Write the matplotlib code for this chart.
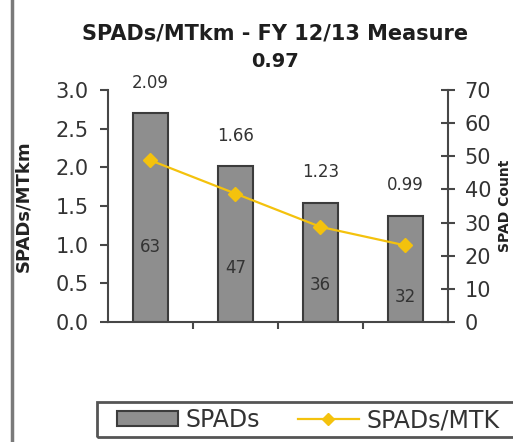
import matplotlib.pyplot as plt
from matplotlib.lines import Line2D
from matplotlib.patches import Patch, Rectangle

# SPAD counts per period and SPADs per million train km
periods = ['P1', 'P2', 'P3', 'P4']
spad_count = [63, 47, 36, 32]
spads_per_mtk = [2.09, 1.66, 1.23, 0.99]
left_ticks = [0.0, 0.5, 1.0, 1.5, 2.0, 2.5, 3.0]
right_ticks = [0, 10, 20, 30, 40, 50, 60, 70]
# heights (in count units) where the count labels sit inside the bars
count_label_y = [22.6, 16.3, 11.2, 7.5]

bar_face = '#8e8e8e'
bar_edge = '#3c3c3c'
line_col = '#f4c20d'
axis_col = '#474747'
text_col = '#333333'

W, H = 513, 442
fig = plt.figure(figsize=(W / 100, H / 100), dpi=100)
ax = fig.add_axes([0.2105, 0.2715, 0.6625, 0.525])
ax2 = ax.twinx()

x = list(range(len(periods)))

# bars go on the right (count) axis, the rate line on the left axis
ax2.bar(x, spad_count, width=0.41, color=bar_face, edgecolor=bar_edge, linewidth=1.5, zorder=2)
ax2.set_ylim(0, 70)
ax2.set_yticks(right_ticks)

ax.set_ylim(0, 3.0)
ax.set_yticks(left_ticks)
ax.set_yticklabels(['%.1f' % t for t in left_ticks])
ax.set_xlim(-0.5, 3.5)
ax.set_xticks([0.5, 1.5, 2.5])
ax.set_xticklabels([])

# put the line axis on top of the bars
ax.set_zorder(ax2.get_zorder() + 1)
ax.patch.set_visible(False)
ax.plot(x, spads_per_mtk, color=line_col, lw=1.6, marker='D', ms=7,
        mec=line_col, mfc=line_col, zorder=5)

for xi, cnt, ly, rate in zip(x, spad_count, count_label_y, spads_per_mtk):
    ax2.text(xi, ly, str(cnt), ha='center', va='center', fontsize=12, color=text_col, zorder=6)
    ax2.annotate('%.2f' % rate, (xi, cnt), xytext=(0, 22), textcoords='offset points',
                 ha='center', va='center', fontsize=12, color=text_col, annotation_clip=False)

for a in (ax, ax2):
    a.spines['top'].set_visible(False)
    for s in a.spines.values():
        s.set_color(axis_col)
        s.set_linewidth(1.5)
ax.spines['right'].set_visible(False)
ax2.spines['left'].set_visible(False)
ax2.spines['bottom'].set_visible(False)

ax.tick_params(axis='y', direction='out', length=6, width=1.5, color=axis_col,
               labelsize=15, labelcolor=text_col, pad=8)
ax.tick_params(axis='x', direction='out', length=5, width=1.5, color=axis_col)
ax2.tick_params(axis='y', direction='inout', length=10, width=1.5, color=axis_col,
                labelsize=15, labelcolor=text_col, pad=7)

ax.set_ylabel('SPADs/MTkm', fontsize=13, fontweight='bold', color='#222222')
ax.yaxis.set_label_coords(-0.224, 0.5)
ax2.set_ylabel('SPAD Count', fontsize=10, fontweight='bold', color='#222222')
ax2.yaxis.set_label_coords(1.148, 0.5)

fig.text(0.536, 0.925, 'SPADs/MTkm - FY 12/13 Measure', ha='center', va='center',
         fontsize=15, fontweight='heavy', color='#1e1e1e')
fig.text(0.536, 0.86, '0.97', ha='center', va='center',
         fontsize=14, fontweight='heavy', color='#1e1e1e')

# left border of the chart area
fig.add_artist(Line2D([0.024, 0.024], [0, 1], transform=fig.transFigure,
                      color='#7a7a7a', lw=2.5))

# legend box running off the right edge
fig.add_artist(Rectangle((97 / W, 1 - 437 / H), (525 - 97) / W, 35 / H,
                         transform=fig.transFigure, fill=False, ec='#555555', lw=2.0))

handles = [Patch(facecolor=bar_face, edgecolor=bar_edge, linewidth=1.5),
           Line2D([], [], color=line_col, lw=1.6, marker='D', ms=6, mfc=line_col, mec=line_col)]
leg = fig.legend(handles, ['SPADs', 'SPADs/MTK'], loc='center left',
                 bbox_to_anchor=(117 / W, 1 - 420 / H), ncol=2, fontsize=17,
                 frameon=False, handlelength=2.6, handleheight=0.6,
                 columnspacing=1.6, handletextpad=0.3, borderpad=0, borderaxespad=0,
                 labelcolor=text_col)

fig.savefig('out.png', dpi=100)
